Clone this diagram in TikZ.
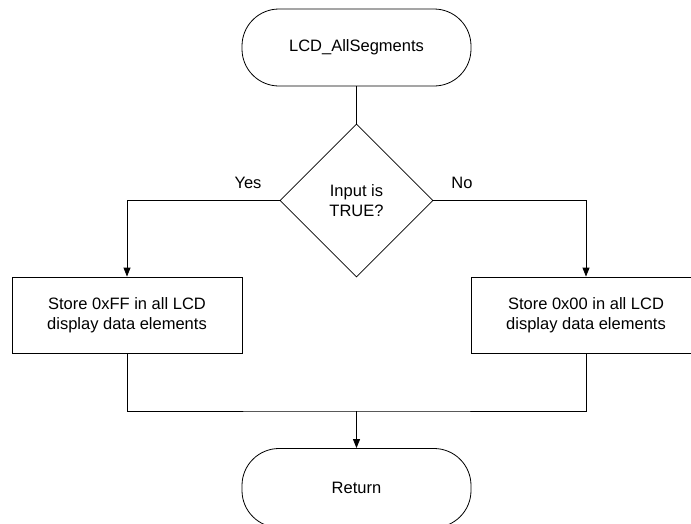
\documentclass[tikz,border=0pt]{standalone}
\usepackage{fontspec}
\setmainfont{Liberation Sans}
\usetikzlibrary{shapes.geometric,arrows.meta}
\begin{document}
\begin{tikzpicture}[x=1pt,y=-1pt,
  every node/.style={font=\fontsize{16.5}{20}\selectfont},
  every path/.style={line width=0.8pt},
  term/.style={draw, rounded corners=37pt, minimum width=229pt, minimum height=77pt, inner sep=2pt},
  proc/.style={draw, minimum width=230pt, minimum height=76pt, align=center, inner sep=2pt},
  dec/.style={diamond, draw, minimum width=153pt, minimum height=153pt, inner sep=0pt, align=center},
  arr/.style={-{Triangle[length=9pt,width=7pt]}}]
\useasboundingbox (0,0) rectangle (691,523);
\node[term] (start) at (356.5,47.5) {LCD\_AllSegments};
\node[dec] (dec) at (356.5,200.5) {Input is\\TRUE?};
\node[proc] (yes) at (127,315) {Store 0xFF in all LCD\\display data elements};
\node[proc] (no) at (586,315) {Store 0x00 in all LCD\\display data elements};
\node[term, minimum height=79pt] (ret) at (356.5,488) {Return};
\coordinate (merge) at (356.5,411);
\node (lyes) at (248,183) {Yes};
\node (lno) at (462,183) {No};
\draw (start) -- (dec);
\draw[arr] (dec.west) -| (yes.north);
\draw[arr] (dec.east) -| (no.north);
\draw (yes.south) |- (merge) -| (no.south);
\draw[arr] (merge) -- (ret);
\end{tikzpicture}
\end{document}
